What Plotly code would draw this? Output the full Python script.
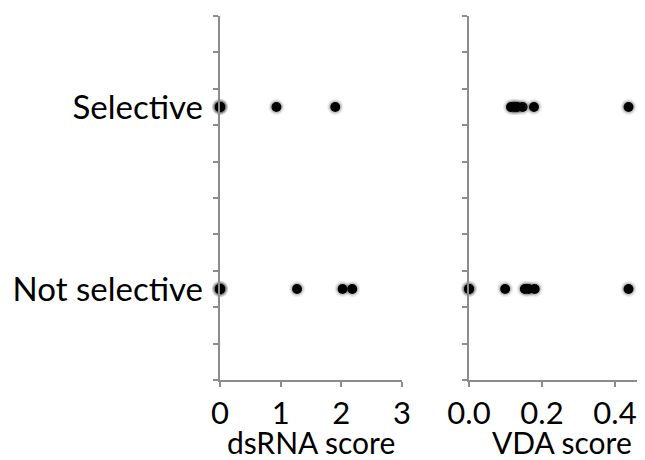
import plotly.graph_objects as go

# ---- data ----
categories = ["Not selective", "Selective"]

dsrna_selective = [0, 0, 0, 0.93, 1.90]
dsrna_not_selective = [0, 0, 0, 1.27, 2.02, 2.18]

vda_selective = [0.115, 0.125, 0.132, 0.147, 0.178, 0.437]
vda_not_selective = [0, 0, 0.099, 0.153, 0.163, 0.180, 0.437]

dsrna_ticks = [0, 1, 2, 3]
dsrna_tick_labels = ["0", "1", "2", "3"]
vda_ticks = [0.0, 0.2, 0.4]
vda_tick_labels = ["0.0", "0.2", "0.4"]
grid_ticks = [0, 1, 2, 3, 4, 5, 6, 7, 8, 9, 10]
x_titles = ["dsRNA score", "VDA score"]

W, H = 645, 460
OFF = 8  # page body margin
FONT = "Lato"
FS = 33
XFS = 31
TFS = 30
AX = "#8c8c8c"

fig = go.Figure()


def add_points(xs, cat, xa, ya):
    ys = [cat] * len(xs)
    fig.add_trace(go.Scatter(x=xs, y=ys, xaxis=xa, yaxis=ya, mode="markers",
                             marker=dict(size=16, color="rgba(0,0,0,0.08)"),
                             cliponaxis=False, hoverinfo="skip", showlegend=False))
    fig.add_trace(go.Scatter(x=xs, y=ys, xaxis=xa, yaxis=ya, mode="markers",
                             marker=dict(size=13, color="rgba(0,0,0,0.16)"),
                             cliponaxis=False, hoverinfo="skip", showlegend=False))
    fig.add_trace(go.Scatter(x=xs, y=ys, xaxis=xa, yaxis=ya, mode="markers",
                             marker=dict(size=10, color="black", line=dict(width=0)),
                             cliponaxis=False, showlegend=False))


add_points(dsrna_selective, "Selective", "x", "y")
add_points(dsrna_not_selective, "Not selective", "x", "y")
add_points(vda_selective, "Selective", "x2", "y2")
add_points(vda_not_selective, "Not selective", "x2", "y2")

# invisible traces to anchor tick overlay axes
fig.add_trace(go.Scatter(x=[0], y=[0], xaxis="x", yaxis="y3", mode="markers",
                         marker=dict(opacity=0), hoverinfo="skip", showlegend=False))
fig.add_trace(go.Scatter(x=[0], y=[0], xaxis="x2", yaxis="y4", mode="markers",
                         marker=dict(opacity=0), hoverinfo="skip", showlegend=False))

# target pixel geometry (page coordinates), minus the page offset
L1, R1 = 220 - OFF, 402 - OFF
L2, R2 = 469 - OFF, W - OFF
TOP, BOT = 16 - OFF, 380 - OFF
xd1 = [L1 / W, R1 / W]
xd2 = [L2 / W, R2 / W]
x2max = (R2 - L2) / 365.0
plot_h = BOT - TOP

common_x = dict(ticks="outside", ticklen=5, tickcolor=AX, tickwidth=1.5,
                showline=True, linecolor=AX, linewidth=1.5,
                showgrid=False, zeroline=False, automargin=False,
                ticklabelstandoff=0, tickfont=dict(size=XFS))

title_y = -((442 - OFF) - BOT) / plot_h

fig.update_layout(
    template="none",
    width=W, height=H,
    margin=dict(l=0, r=0, t=TOP, b=H - BOT, pad=0),
    paper_bgcolor="white", plot_bgcolor="white",
    font=dict(family=FONT, size=FS, color="black"),
    showlegend=False,
    xaxis=dict(domain=xd1, range=[0, 3], anchor="y",
               tickmode="array", tickvals=dsrna_ticks, ticktext=dsrna_tick_labels,
               **common_x),
    xaxis2=dict(domain=xd2, range=[0, x2max], anchor="y2",
                tickmode="array", tickvals=vda_ticks, ticktext=vda_tick_labels,
                **common_x),
    yaxis=dict(type="category", categoryorder="array", categoryarray=categories,
               range=[-0.5, 1.5], anchor="x", ticks="", showline=False,
               showgrid=False, zeroline=False, automargin=False,
               ticklabelstandoff=16),
    yaxis2=dict(type="category", categoryorder="array", categoryarray=categories,
                range=[-0.5, 1.5], anchor="x2", ticks="", showline=False,
                showticklabels=False, showgrid=False, zeroline=False,
                automargin=False),
    yaxis3=dict(overlaying="y", anchor="x", range=[0, 10], tickmode="array",
                tickvals=grid_ticks, showticklabels=False,
                ticks="outside", ticklen=5, tickcolor=AX, tickwidth=1.5,
                showline=True, linecolor=AX, linewidth=1.5,
                showgrid=False, zeroline=False, automargin=False),
    yaxis4=dict(overlaying="y2", anchor="x2", range=[0, 10], tickmode="array",
                tickvals=grid_ticks, showticklabels=False,
                ticks="outside", ticklen=5, tickcolor=AX, tickwidth=1.5,
                showline=True, linecolor=AX, linewidth=1.5,
                showgrid=False, zeroline=False, automargin=False),
    annotations=[
        dict(text=x_titles[0], xref="paper", yref="paper",
             x=(xd1[0] + xd1[1]) / 2, y=title_y, xanchor="center", yanchor="middle",
             showarrow=False, font=dict(size=TFS)),
        dict(text=x_titles[1], xref="paper", yref="paper",
             x=(xd2[0] + xd2[1]) / 2 + 0.008, y=title_y, xanchor="center", yanchor="middle",
             showarrow=False, font=dict(size=TFS)),
    ],
)

fig.write_html("out.html")
